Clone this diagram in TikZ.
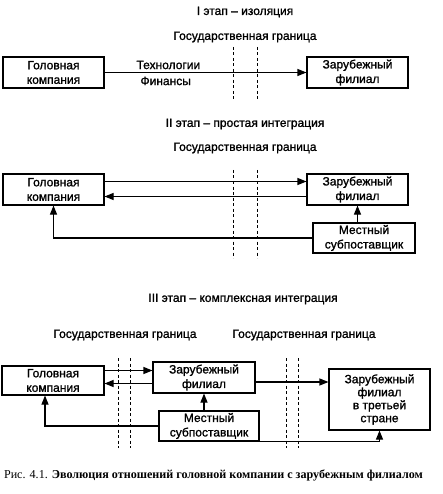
\documentclass[tikz,border=0pt]{standalone}
\usepackage{fontspec}
\setmainfont{Liberation Sans}[FakeBold=1.2]
\newfontfamily\capfont{Liberation Serif}
\usetikzlibrary{arrows.meta}

\begin{document}
\begin{tikzpicture}[x=1pt, y=-1pt,
    box/.style={draw, line width=1.1pt, align=center, inner sep=0pt,
      font=\fontsize{12}{14.5}\selectfont},
    arr/.style={line width=1.1pt, -{Triangle[length=9pt, width=7pt]}},
    border/.style={line width=1pt, dash pattern=on 3pt off 2.5pt},
    lbl/.style={font=\fontsize{12}{14}\selectfont}]
  \useasboundingbox (0,0) rectangle (442,494);
  % state borders, all stages
  \foreach \x/\ya/\yb in {233/47/100, 257/47/100, 233/170/258, 257/170/258,
                          118/358/448, 130/358/448, 286/358/448, 298/358/448}
    \draw[border] (\x,\ya) -- (\x,\yb);
  % stage I: isolation
  \node[lbl] (titleI) at (245,12) {I этап – изоляция};
  \node[lbl] (bordI) at (245,37) {Государственная граница};
  \node[box, minimum width=101, minimum height=31] (hqI) at (53.5,72.5)
    {Головная\\компания};
  \node[box, minimum width=101, minimum height=31] (subI) at (357.5,72.5)
    {Зарубежный\\филиал};
  \node[lbl, anchor=west] (techI) at (133,65) {Технологии};
  \node[lbl, anchor=west] (finI) at (137,81) {Финансы};
  \draw[arr] (hqI) -- (subI);
  % stage II: simple integration
  \node[lbl] (titleII) at (245,124) {II этап – простая интеграция};
  \node[lbl] (bordII) at (245,148) {Государственная граница};
  \node[box, minimum width=101, minimum height=31] (hqII) at (53.5,189.5)
    {Головная\\компания};
  \node[box, minimum width=101, minimum height=31] (subII) at (357.5,189.5)
    {Зарубежный\\филиал};
  \node[box, minimum width=102, minimum height=30] (supII) at (364,238)
    {Местный\\субпоставщик};
  \draw[arr] ([yshift=8]hqII.east) -- ([yshift=8]subII.west);
  \draw[arr] ([yshift=-7]subII.west) -- ([yshift=-7]hqII.east);
  \draw[arr] (supII.north -| subII) -- (subII.south);
  \draw[arr] (supII.west) -| (hqII.south);
  % stage III: complex integration
  \node[lbl] (titleIII) at (243,299) {III этап – комплексная интеграция};
  \node[lbl] (bordIIIa) at (125,335) {Государственная граница};
  \node[lbl] (bordIIIb) at (304,335) {Государственная граница};
  \node[box, minimum width=102, minimum height=29] (hqIII) at (53,380.5)
    {Головная\\компания};
  \node[box, minimum width=102, minimum height=31] (subIII) at (204,377.5)
    {Зарубежный\\филиал};
  \node[box, minimum width=101, minimum height=61, font=\fontsize{12}{13}\selectfont]
    (thirdIII) at (379.5,399.5) {Зарубежный\\филиал\\в третьей\\стране};
  \node[box, minimum width=100, minimum height=30] (supIII) at (209,426)
    {Местный\\субпоставщик};
  \draw[arr] ([yshift=10]hqIII.east) -- ([yshift=7]subIII.west);
  \draw[arr] ([yshift=-6]subIII.west) -- ([yshift=-3]hqIII.east);
  \draw[arr] ([yshift=-4.5]subIII.east) -- ([yshift=17.5]thirdIII.west);
  \draw[arr] (supIII.north -| subIII) -- (subIII.south);
  \draw[arr] (supIII.west) -| ([xshift=-8]hqIII.south);
  \draw[arr] (supIII.south east) -| (thirdIII.south);
  % caption
  \node[font=\capfont\fontsize{12.1}{14}\selectfont] (caption) at (213.5,475)
    {Рис. 4.1. \textbf{Эволюция отношений головной компании с зарубежным филиалом}};
\end{tikzpicture}
\end{document}
